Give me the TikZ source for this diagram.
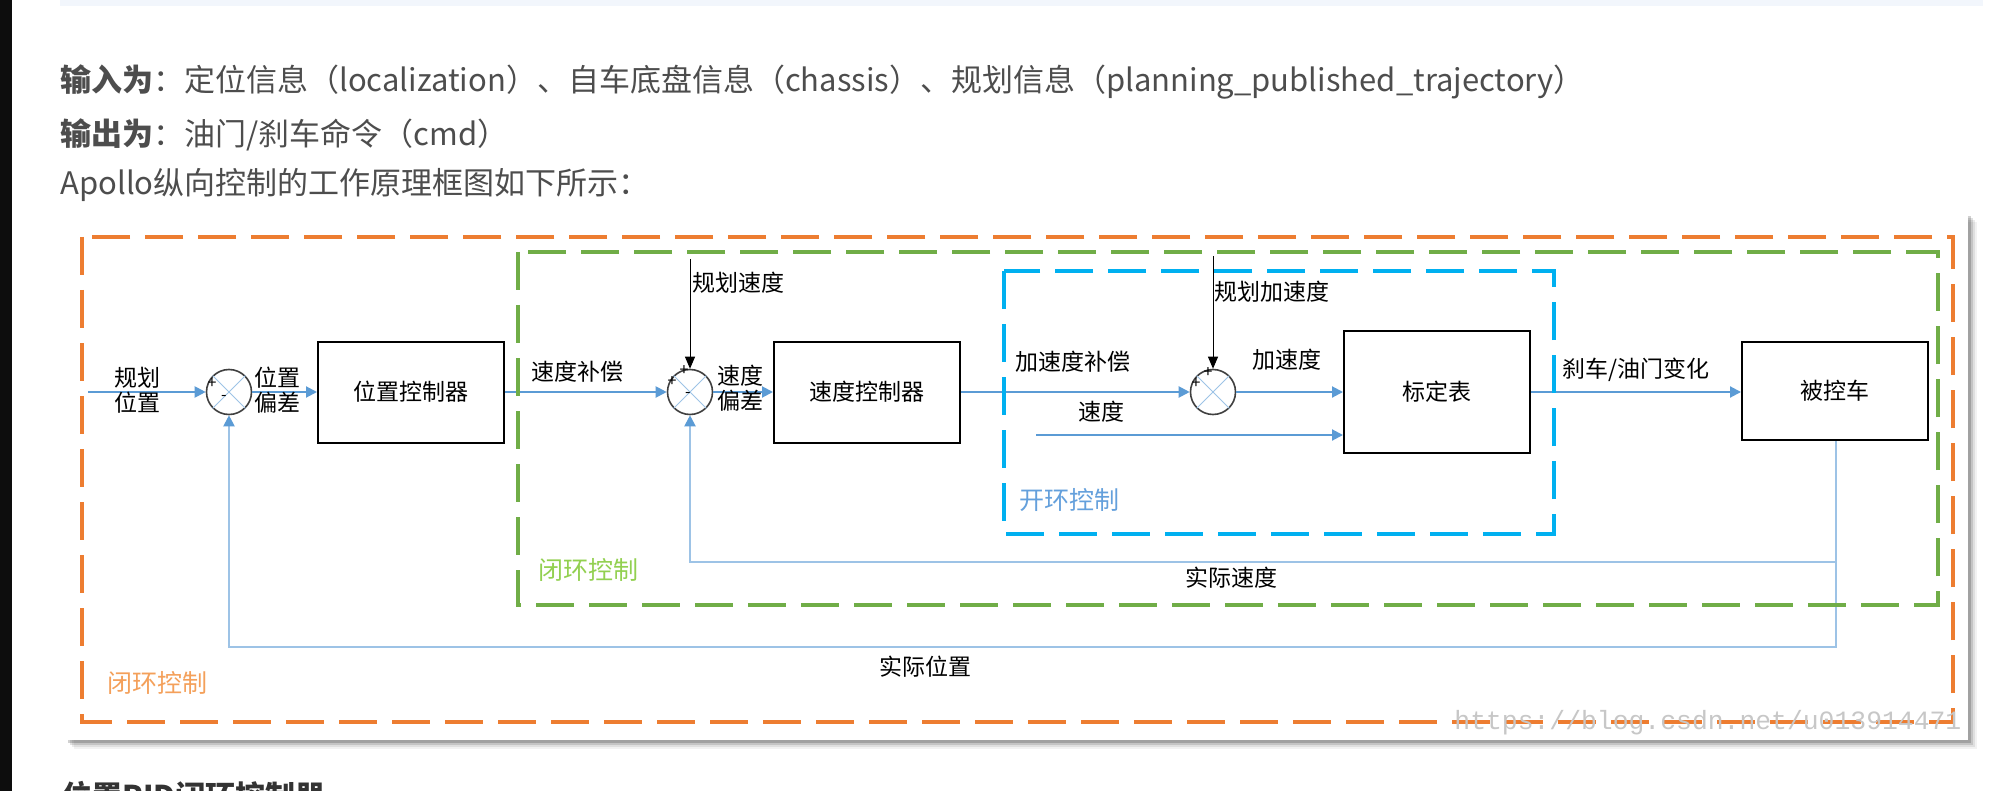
\documentclass[tikz,border=0pt]{standalone}
\usepackage{fontspec}
\setmainfont{Noto Sans CJK SC}
\newfontfamily\wmfont{Liberation Mono}
\usetikzlibrary{arrows.meta}
\definecolor{fwdblue}{RGB}{91,155,213}
\definecolor{fbblue}{RGB}{157,195,230}
\definecolor{loopor}{RGB}{237,125,49}
\definecolor{loopgr}{RGB}{112,173,71}
\definecolor{loopbl}{RGB}{0,176,240}
\definecolor{labor}{RGB}{244,160,90}
\definecolor{labgr}{RGB}{146,208,80}
\definecolor{labbl}{RGB}{100,160,220}
\definecolor{txtgray}{RGB}{77,77,77}
\definecolor{topbar}{RGB}{242,246,252}

\begin{document}
\begin{tikzpicture}[x=0.5pt,y=-0.5pt,
    block/.style={draw=black, line width=1pt, minimum width=93pt, minimum height=50.5pt, inner sep=0pt, font=\fontsize{11.5}{13}\selectfont},
    sumnode/.style={circle, draw=black!75, line width=0.8pt, minimum size=22.5pt, inner sep=0pt},
    lbl/.style={font=\fontsize{11.5}{12.5}\selectfont, inner sep=0pt, align=center},
    looplbl/.style={font=\fontsize{12.5}{13}\selectfont, inner sep=0pt, anchor=west},
    sign/.style={font=\fontsize{8}{8}\selectfont, inner sep=0pt},
    flow/.style={draw=fwdblue, line width=1pt, -{Triangle[length=5.5pt,width=5.5pt]}},
    feedback/.style={draw=fbblue, line width=1pt, -{Triangle[length=5.5pt,width=5.5pt,color=fwdblue]}},
    refin/.style={draw=black, line width=0.5pt, -{Triangle[length=6pt,width=5pt]}},
    frame/.style={line width=2pt, dash pattern=on 19pt off 7.5pt},
    head/.style={anchor=west, inner sep=0pt, text=txtgray, font=\fontsize{15.5}{18}\selectfont}]
    \useasboundingbox (0,0) rectangle (2013,791);
    \clip (0,0) rectangle (2013,791);
    % Page
    \fill[black!95] (0,0) rectangle (12,791);
    \fill[topbar] (60,0) rectangle (1983,6);
    \node[head] (inlines) at (60,82) {\textbf{输入为}：定位信息（localization）、自车底盘信息（chassis）、规划信息（planning\_published\_trajectory）};
    \node[head] (outlines) at (60,135) {\textbf{输出为}：油门/刹车命令（cmd）};
    \node[head] (caption) at (60,185) {Apollo纵向控制的工作原理框图如下所示：};
    \node[head, anchor=north west, text=black!80, font=\bfseries\fontsize{15}{17}\selectfont] (nexthead) at (62,781) {位置PID闭环控制器};
    % Panel with shadow
    \foreach \s/\o in {9/0.05,7/0.08,5/0.12,3/0.18} {
        \fill[black, opacity=\o] (65+\s,213+\s) rectangle (1968+\s,740+\s);
    }
    \fill[white] (65,213) rectangle (1968,740);

    % Blocks
    \node[sumnode] (possum) at (229,392) {};
    \node[block] (posctrl) at (411,392) {位置控制器};
    \node[sumnode] (velsum) at (690,392) {};
    \node[block] (velctrl) at (867,392) {速度控制器};
    \node[sumnode] (accsum) at (1213,392) {};
    \node[block, minimum height=61pt] (calib) at (1437,392) {标定表};
    \node[block, minimum height=49pt] (car) at (1835,391) {被控车};
    \foreach \s in {possum,velsum,accsum} {
        \draw[fbblue, line width=0.5pt] (\s.north west) -- (\s.south east) (\s.north east) -- (\s.south west);
    }
    % Signs
    \node[sign] (p1) at (212,384) {+};
    \node[sign] (m1) at (224,398) {-};
    \node[sign] (p2a) at (684,371) {+};
    \node[sign] (p2b) at (672,382) {+};
    \node[sign] (m2) at (688,395) {-};
    \node[sign] (p3a) at (1208,373) {+};
    \node[sign] (p3b) at (1196,384) {+};

    % Position loop
    \coordinate (posin) at (88,392);
    \draw[flow] (posin) -- (possum.west);
    \node[lbl] (posinlbl) at (137,390) {规划\\位置};
    \draw[flow] (possum.east) -- (posctrl.west);
    \node[lbl] (poserr) at (277,390) {位置\\偏差};
    \draw[flow] (posctrl.east) -- (velsum.west);
    \node[lbl] (velcomp) at (577,372) {速度补偿};
    % Speed loop
    \coordinate (velref) at (690,259);
    \draw[refin] (velref) -- (velsum.north);
    \node[lbl, anchor=west] (velreflbl) at (692,283) {规划速度};
    \draw[flow] (velsum.east) -- (velctrl.west);
    \node[lbl] (velerr) at (740,388) {速度\\偏差};
    \draw[flow] (velctrl.east) -- (accsum.west);
    \node[lbl] (acccomp) at (1073,362) {加速度补偿};
    % Open loop
    \coordinate (accref) at (1213,256);
    \draw[refin] (accref) -- (accsum.north);
    \node[lbl, anchor=west] (accreflbl) at (1214,292) {规划加速度};
    \draw[flow] (accsum.east) -- (calib.west);
    \node[lbl] (acclbl) at (1287,360) {加速度};
    \coordinate (velin) at (1036,435);
    \draw[flow] (velin) -- (velin -| calib.west);
    \node[lbl] (velinlbl) at (1101,412) {速度};
    \draw[flow] (calib.east) -- (calib.east -| car.west);
    \node[lbl] (cmdlbl) at (1636,370) {刹车/油门变化};
    % Feedback
    \coordinate (fbvel) at (1836,562);
    \coordinate (fbpos) at (1836,647);
    \draw[feedback] (car.south -| fbpos) -- (fbpos) -| (possum.south);
    \draw[feedback] (fbvel) -| (velsum.south);
    \node[lbl] (actvel) at (1231,578) {实际速度};
    \node[lbl] (actpos) at (925,667) {实际位置};

    % Loops
    \draw[frame, loopor] (82,237) rectangle (1953,722);
    \draw[frame, loopgr] (518,252) rectangle (1938,605);
    \draw[frame, loopbl] (1004,271) rectangle (1554,534);
    \node[looplbl, text=labor] (outerlbl) at (107,683) {闭环控制};
    \node[looplbl, text=labgr] (innerlbl) at (538,570) {闭环控制};
    \node[looplbl, text=labbl] (openlbl) at (1019,500) {开环控制};
    \node[anchor=west, inner sep=0pt, text=black!22, font=\wmfont\fontsize{13.2}{14}\selectfont] (wm) at (1454,723) {https://blog.csdn.net/u013914471};
\end{tikzpicture}
\end{document}
